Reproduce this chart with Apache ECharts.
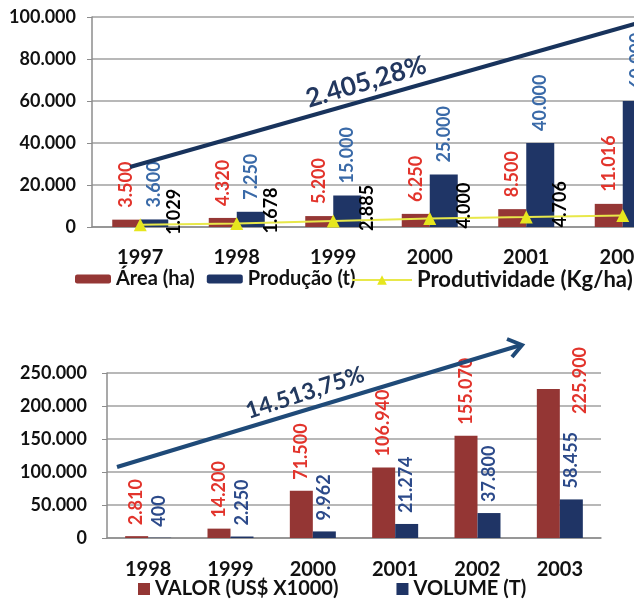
<!DOCTYPE html>
<html><head><meta charset="utf-8">
<script src="https://cdn.jsdelivr.net/npm/echarts@6/dist/echarts.min.js"></script>
<style>html,body{margin:0;padding:0;background:#fff}#c{width:634px;height:601px}</style>
</head><body><div id="c"></div>
<script>
// ---- Top chart data ----
const topYears = ['1997','1998','1999','2000','2001','2002'];
const areaHa = [3500, 4320, 5200, 6250, 8500, 11016];
const producaoT = [3600, 7250, 15000, 25000, 40000, 60000];
const produtividade = [1029, 1678, 2885, 4000, 4706, 5447];
const topTicks = [0, 20000, 40000, 60000, 80000, 100000];
// ---- Bottom chart data ----
const botYears = ['1998','1999','2000','2001','2002','2003'];
const valor = [2810, 14200, 71500, 106940, 155070, 225900];
const volume = [400, 2250, 9962, 21274, 37800, 58455];
const botTicks = [0, 50000, 100000, 150000, 200000, 250000];
const topGrowth = '2.405,28%';
const botGrowth = '14.513,75%';

const FONT = 'Lato';
const fmt = v => String(v).replace(/\B(?=(\d{3})+(?!\d))/g, '.');
const barLabel = (color, dist) => ({
  show: true, position: 'top', rotate: 90, align: 'left', verticalAlign: 'middle',
  distance: dist, color: color, fontFamily: FONT, fontWeight: 'bold', fontSize: 18,
  formatter: p => fmt(p.value)
});

const chart = echarts.init(document.getElementById('c'));
const valorData = valor.map((v, i) => i === valor.length - 1
  ? { value: v, label: { offset: [-36, 32] } } : v);

chart.setOption({
  animation: false,
  grid: [
    { left: 92, top: 17, width: 579, height: 210, outerBoundsMode: 'none', containLabel: false },
    { left: 107, top: 373, width: 494, height: 165, outerBoundsMode: 'none', containLabel: false }
  ],
  legend: [
    { data: ['Área (ha)', 'Produção (t)'], left: 70, top: 264, itemWidth: 36, itemHeight: 9, itemGap: 12,
      textStyle: { fontFamily: FONT, fontWeight: 'bold', fontSize: 20, color: '#111' } },
    { data: ['Produtividade (Kg/ha)'], left: 346, top: 264, itemWidth: 60, itemHeight: 12,
      textStyle: { fontFamily: FONT, fontWeight: 'bold', fontSize: 22, color: '#111' } },
    { data: ['VALOR (US$ X1000)', 'VOLUME (T)'], left: 133, top: 574, itemWidth: 12, itemHeight: 12, itemGap: 58,
      icon: 'rect',
      textStyle: { fontFamily: FONT, fontWeight: 'bold', fontSize: 20, color: '#111' } }
  ],
  xAxis: [
    { type: 'category', gridIndex: 0, data: topYears,
      axisLine: { lineStyle: { color: '#8c8c8c', width: 1.5 } },
      axisTick: { length: 6, lineStyle: { color: '#8c8c8c', width: 1.5 } },
      axisLabel: { margin: 21, color: '#111', fontFamily: FONT, fontWeight: 'bold', fontSize: 20 } },
    { type: 'category', gridIndex: 1, data: botYears,
      axisLine: { lineStyle: { color: '#8c8c8c', width: 1.5 } },
      axisTick: { length: 8, lineStyle: { color: '#8c8c8c', width: 1.5 } },
      axisLabel: { margin: 22, color: '#111', fontFamily: FONT, fontWeight: 'bold', fontSize: 20 } }
  ],
  yAxis: [
    { type: 'value', gridIndex: 0, min: topTicks[0], max: topTicks[topTicks.length-1], interval: 20000,
      axisLine: { show: true, lineStyle: { color: '#8c8c8c', width: 1.5 } },
      axisTick: { show: true, length: 5, lineStyle: { color: '#8c8c8c' } },
      splitLine: { lineStyle: { color: '#a0a0a0', width: 1.5 } },
      axisLabel: { margin: 16, color: '#111', fontFamily: FONT, fontWeight: 'bold', fontSize: 18, formatter: fmt } },
    { type: 'value', gridIndex: 1, min: botTicks[0], max: botTicks[botTicks.length-1], interval: 50000,
      axisLine: { show: true, lineStyle: { color: '#8c8c8c', width: 1.5 } },
      axisTick: { show: true, length: 5, lineStyle: { color: '#8c8c8c' } },
      splitLine: { lineStyle: { color: '#a0a0a0', width: 1.5 } },
      axisLabel: { margin: 20, color: '#111', fontFamily: FONT, fontWeight: 'bold', fontSize: 18, formatter: fmt } }
  ],
  series: [
    { name: 'Área (ha)', type: 'bar', xAxisIndex: 0, yAxisIndex: 0, data: areaHa,
      barWidth: 28, barGap: '0%', itemStyle: { color: '#953735' }, label: barLabel('#e2342c', 12) },
    { name: 'Produção (t)', type: 'bar', xAxisIndex: 0, yAxisIndex: 0, data: producaoT,
      barWidth: 28, barGap: '0%', itemStyle: { color: '#1f3566' }, label: barLabel('#3a6aa8', 12) },
    { name: 'Produtividade (Kg/ha)', type: 'line', xAxisIndex: 0, yAxisIndex: 0, data: produtividade,
      symbol: 'triangle', symbolSize: 13, z: 5,
      lineStyle: { color: '#e8e84a', width: 2 }, itemStyle: { color: '#e6e61e' },
      label: { show: true, position: 'inside', rotate: 90, align: 'center', verticalAlign: 'middle',
        offset: [13, 34], color: '#000', fontFamily: FONT, fontWeight: 'bold', fontSize: 18,
        formatter: p => fmt(p.value) } },
    { name: 'VALOR (US$ X1000)', type: 'bar', xAxisIndex: 1, yAxisIndex: 1, data: valorData,
      barWidth: 23, barGap: '0%', itemStyle: { color: '#943634' }, label: barLabel('#e2342c', 11) },
    { name: 'VOLUME (T)', type: 'bar', xAxisIndex: 1, yAxisIndex: 1, data: volume,
      barWidth: 23, barGap: '0%', itemStyle: { color: '#1f3465' }, label: barLabel('#2c4a8a', 11) }
  ],
  graphic: [
    { type: 'line', shape: { x1: 130, y1: 167, x2: 645, y2: 21 }, style: { stroke: '#18335c', lineWidth: 4 }, z: 10 },
    { type: 'text', x: 366, y: 82, rotation: 16.5 * Math.PI / 180, z: 10,
      style: { text: topGrowth, fill: '#22375f', font: 'bold 26px Lato', align: 'center', verticalAlign: 'middle' } },
    { type: 'line', shape: { x1: 117, y1: 467, x2: 521, y2: 345 }, style: { stroke: '#1f4a78', lineWidth: 4 }, z: 10 },
    { type: 'polyline', shape: { points: [[507, 339], [522, 345], [512, 357]] }, style: { stroke: '#1f4a78', lineWidth: 4, fill: null, lineJoin: 'miter' }, z: 10 },
    { type: 'text', x: 305, y: 393, rotation: 18 * Math.PI / 180, z: 10,
      style: { text: botGrowth, fill: '#22395f', font: 'bold 23px Lato', align: 'center', verticalAlign: 'middle' } }
  ]
});
</script></body></html>
